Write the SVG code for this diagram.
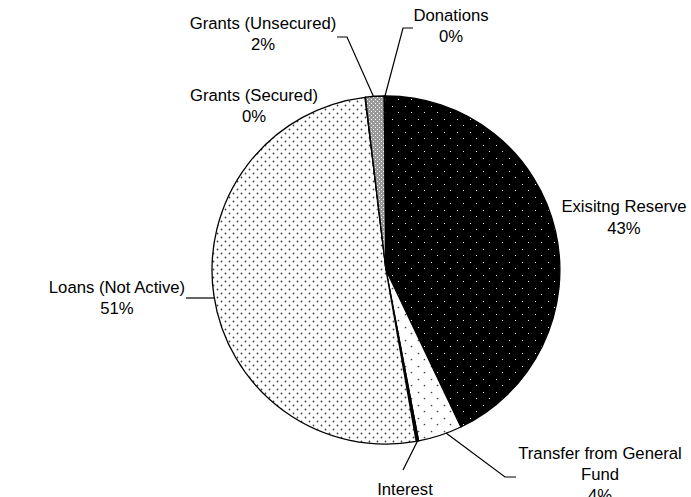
<svg xmlns="http://www.w3.org/2000/svg" width="691" height="497" viewBox="0 0 691 497">
<style>
.sl{stroke:#000;stroke-width:1.3;stroke-linejoin:round}
.lb{font-family:"Liberation Sans",Arial,sans-serif;font-size:16.7px;fill:#000;text-anchor:middle}
.ld{fill:none;stroke:#000;stroke-width:1.2}
</style>
<defs>
<pattern id="pExist" width="13" height="13" patternUnits="userSpaceOnUse"><rect width="13" height="13" fill="#000"/><rect x="2" y="2" width="1" height="1" fill="#eee"/><rect x="8" y="8" width="1" height="1" fill="#eee"/></pattern>
<pattern id="pTrans" width="13" height="13" patternUnits="userSpaceOnUse"><rect width="13" height="13" fill="#fff"/><circle cx="2.5" cy="2.5" r="0.85" fill="#444"/><circle cx="8.5" cy="8.5" r="0.85" fill="#444"/></pattern>
<pattern id="pLoan" width="8" height="8" patternUnits="userSpaceOnUse"><rect width="8" height="8" fill="#fff"/><circle cx="1.5" cy="1.5" r="0.9" fill="#444"/><circle cx="5.5" cy="5.5" r="0.9" fill="#444"/></pattern>
<pattern id="pGrant" width="4" height="4" patternUnits="userSpaceOnUse"><rect width="4" height="4" fill="#999"/><rect x="1" y="1" width="1" height="1" fill="#fff"/><rect x="3" y="3" width="1" height="1" fill="#fff"/></pattern>
</defs>
<rect width="691" height="497" fill="#fff"/>
<g id="existing-reserve">
<path class="sl" fill="url(#pExist)" d="M386,270 L384.8,96 A174,174 0 0 1 460.9,427 Z"/>
<text class="lb" x="624" y="212">Exisitng Reserve</text>
<text class="lb" x="624" y="233.5">43%</text>
</g>
<g id="transfer-general-fund">
<path class="sl" fill="url(#pTrans)" d="M386,270 L460.9,427 A174,174 0 0 1 418.6,440.9 Z"/>
<text class="lb" x="600" y="459">Transfer from General</text>
<text class="lb" x="600" y="480">Fund</text>
<text class="lb" x="600" y="501">4%</text>
</g>
<g id="interest">
<path class="sl" fill="#000" d="M386,270 L418.6,440.9 A174,174 0 0 1 416.2,441.4 Z"/>
<text class="lb" x="405" y="495">Interest</text>
</g>
<g id="loans-not-active">
<path class="sl" fill="url(#pLoan)" d="M386,270 L416.2,441.4 A174,174 0 1 1 365.1,97.3 Z"/>
<text class="lb" x="117" y="292.5">Loans (Not Active)</text>
<text class="lb" x="117" y="313.5">51%</text>
</g>
<g id="grants-secured">
<path class="sl" fill="#fff" d="M386,270 L365.1,97.3 A174,174 0 0 1 365.4,97.2 Z"/>
<text class="lb" x="254" y="100.5">Grants (Secured)</text>
<text class="lb" x="254" y="121.5">0%</text>
</g>
<g id="grants-unsecured">
<path class="sl" fill="url(#pGrant)" d="M386,270 L365.4,97.2 A174,174 0 0 1 384.2,96 Z"/>
<text class="lb" x="263" y="29">Grants (Unsecured)</text>
<text class="lb" x="263" y="49.5">2%</text>
</g>
<g id="donations">
<path class="sl" fill="#fff" d="M386,270 L384.2,96 A174,174 0 0 1 384.8,96 Z"/>
<text class="lb" x="451" y="21">Donations</text>
<text class="lb" x="451" y="42">0%</text>
</g>
<g id="connectors">
<path class="ld" d="M413,28 H403 L385,96"/>
<path class="ld" d="M337,37 H347 L373.5,96.5"/>
<path class="ld" d="M186,298 H214"/>
<path class="ld" d="M417.5,441 L403,470"/>
<path class="ld" d="M446,433 L505,477 H516"/>
</g>
</svg>
